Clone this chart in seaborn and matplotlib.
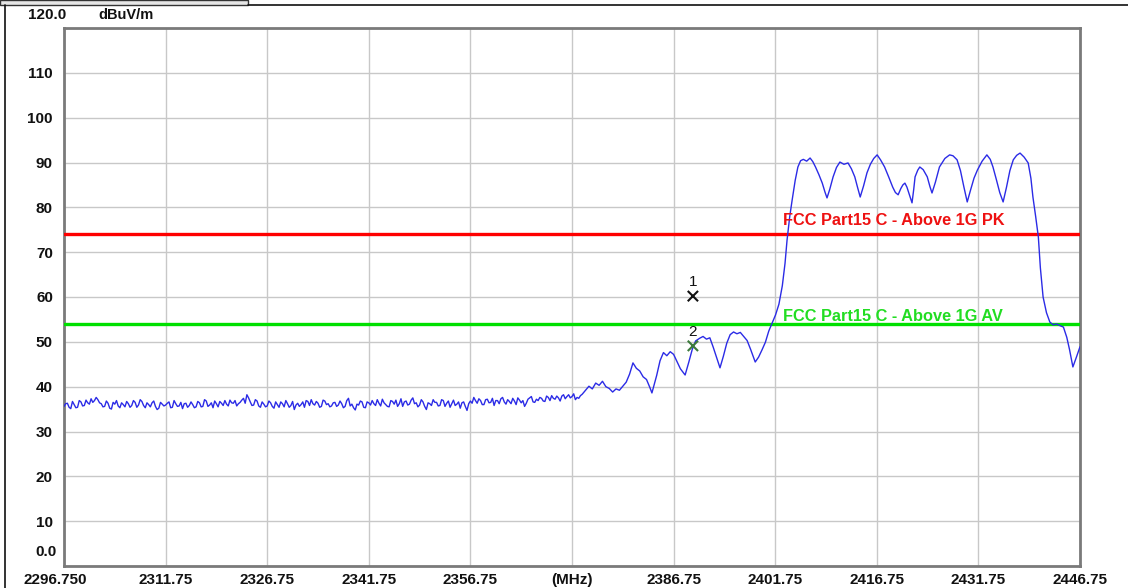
import numpy as np
import pandas as pd
import matplotlib
matplotlib.use("Agg")
import matplotlib.pyplot as plt
import matplotlib.transforms as mtransforms
from matplotlib.patches import Rectangle
from matplotlib.lines import Line2D
import seaborn as sns

# ---------------- data ----------------
noise_start = 2296.75
noise_step = 0.5
noise_level = [
    35.6, 36.3, 35.1, 36.0, 35.4, 36.6, 35.8, 36.4, 37.3, 36.9,
    37.1, 36.2, 35.6, 36.3, 35.0, 36.1, 35.7, 36.4, 35.5, 36.2,
    35.8, 36.5, 35.9, 36.7, 35.3, 36.0, 36.4, 35.6, 35.2, 36.1,
    35.9, 36.6, 35.4, 36.2, 35.7, 35.1, 36.3, 35.8, 36.0, 35.5,
    36.4, 35.6, 36.8, 35.9, 35.3, 36.2, 36.7, 35.8, 36.1, 37.0,
    36.3, 35.7, 36.5, 37.4, 38.2, 36.6, 35.9, 36.8, 35.4, 36.1,
    35.7, 36.4, 35.2, 36.0, 36.6, 35.5, 36.2, 35.8, 34.9, 36.3,
    36.0, 35.4, 36.7, 37.1, 35.9, 36.3, 35.6, 36.8, 36.2, 35.7,
    36.5, 35.9, 36.2, 35.6, 37.4, 36.1, 34.8, 35.9, 36.6, 35.3,
    36.4, 36.9, 35.8, 36.3, 37.2, 36.0, 35.5, 36.7, 37.0, 36.2,
    35.6, 36.8, 36.1, 37.5, 36.4, 35.9, 36.6, 34.9, 36.2, 37.1,
    36.5, 35.8, 36.9, 36.3, 35.4, 37.0, 36.1, 35.2, 36.6, 34.7,
    36.8, 37.6, 36.3, 36.9, 36.0, 37.2, 36.5, 35.8, 36.9, 37.3,
    36.6, 37.1, 36.2, 36.8, 37.5, 36.4, 35.6, 37.2, 37.8, 36.5,
    36.9, 37.4, 36.7, 37.6, 38.0, 37.2, 37.5, 37.9, 37.3, 38.2,
    37.8, 37.1, 37.4,
]
# readings between the points above (offset by a quarter MHz)
noise_level_mid = [
    36.2, 35.4, 36.7, 35.3, 36.9, 35.7, 37.0, 36.1, 36.5, 37.6,
    36.4, 35.5, 36.8, 35.2, 36.5, 36.9, 35.3, 36.0, 36.7, 35.4,
    36.9, 35.4, 37.1, 35.8, 36.4, 35.5, 36.8, 34.9, 36.5, 35.7,
    36.3, 35.3, 36.9, 35.6, 36.5, 36.2, 35.4, 36.6, 35.3, 36.7,
    35.5, 37.1, 35.6, 36.4, 36.8, 35.5, 36.3, 36.9, 35.7, 36.4,
    36.9, 36.2, 37.0, 36.3, 37.5, 35.8, 37.1, 35.7, 36.6, 35.5,
    36.8, 35.6, 36.6, 35.4, 36.2, 36.9, 35.4, 36.7, 35.9, 35.6,
    36.6, 36.9, 35.8, 36.2, 36.7, 35.4, 37.0, 36.0, 35.5, 36.4,
    35.6, 36.8, 35.3, 36.9, 35.7, 35.3, 36.1, 36.8, 35.4, 36.6,
    35.9, 36.2, 37.1, 35.7, 36.4, 35.6, 36.9, 36.1, 35.6, 37.3,
    36.6, 35.9, 37.0, 36.2, 35.5, 37.1, 35.6, 36.4, 35.8, 36.5,
    35.7, 37.1, 35.6, 36.8, 36.2, 35.8, 36.6, 36.4, 35.6, 36.2,
    36.3, 36.9, 37.3, 36.0, 37.1, 36.4, 37.4, 36.9, 36.2, 37.6,
    36.1, 36.7, 37.4, 36.0, 37.0, 36.9, 36.3, 37.5, 36.6, 37.2,
    37.6, 36.8, 37.9, 36.9, 37.4, 37.9, 36.8, 38.2, 37.8, 37.5,
    38.4, 37.6, 38.0,
]
noise_freq = [noise_start + noise_step * i for i in range(len(noise_level))]
noise_freq_mid = [noise_start + noise_step / 2 + noise_step * i for i in range(len(noise_level_mid))]

band_freq = [
    2373.25, 2373.75, 2374.25, 2374.75, 2375.25, 2375.75, 2376.25, 2376.75,
    2377.25, 2377.75, 2378.25, 2378.75, 2379.25, 2379.75, 2380.25, 2380.75,
    2381.25, 2381.75, 2382.25, 2382.75, 2383.25, 2383.55, 2384.25, 2384.75,
    2385.25, 2385.75, 2386.25, 2386.75, 2387.25, 2387.75, 2388.45, 2389.00,
    2389.50, 2390.00, 2390.60, 2391.10, 2391.60, 2392.10, 2392.60, 2393.10,
    2393.60, 2394.10, 2394.60, 2395.10, 2395.60, 2396.10, 2396.60, 2397.10,
    2397.60, 2398.10, 2398.80, 2399.30, 2399.80, 2400.30, 2400.80, 2401.30,
    2401.80, 2402.30, 2402.80, 2403.20, 2403.50, 2403.90, 2404.25, 2404.70,
    2405.10, 2405.50, 2405.90, 2406.40, 2406.90, 2407.30, 2407.70, 2408.20,
    2408.70, 2409.10, 2409.40, 2409.80, 2410.30, 2410.80, 2411.30, 2411.90,
    2412.50, 2413.00, 2413.50, 2413.90, 2414.30, 2414.80, 2415.30, 2415.80,
    2416.30, 2416.80, 2417.30, 2417.90, 2418.50, 2419.10, 2419.50, 2419.90,
    2420.30, 2420.60, 2420.90, 2421.20, 2421.60, 2421.95, 2422.20, 2422.40,
    2422.80, 2423.10, 2423.60, 2424.20, 2424.60, 2424.90, 2425.40, 2426.00,
    2426.80, 2427.50, 2428.00, 2428.60, 2429.10, 2429.60, 2430.10, 2430.60,
    2431.10, 2431.60, 2432.30, 2433.00, 2433.50, 2433.90, 2434.40, 2434.90,
    2435.40, 2435.90, 2436.40, 2436.90, 2437.40, 2437.90, 2438.50, 2439.10,
    2439.50, 2439.80, 2440.20, 2440.60, 2440.90, 2441.30, 2441.80, 2442.30,
    2442.80, 2443.30, 2443.80, 2444.30, 2444.80, 2445.20, 2445.70, 2446.20,
    2446.75,
]
band_level = [
    38.3, 39.2, 40.1, 39.5, 40.8, 40.3, 41.2, 40.0,
    39.6, 38.8, 39.5, 39.2, 40.1, 41.0, 42.8, 45.3,
    44.1, 43.5, 42.2, 41.6, 39.8, 38.6, 42.5, 45.8,
    47.6, 46.9, 47.8, 47.2, 45.6, 44.0, 42.6, 45.5,
    48.3, 50.2, 50.8, 51.2, 50.6, 50.9, 48.8, 46.5,
    44.2, 46.8, 49.7, 51.6, 52.2, 51.8, 52.1, 51.2,
    50.3, 48.4, 45.5, 46.6, 48.2, 49.9, 52.4, 54.2,
    56.0, 58.4, 62.5, 67.5, 72.7, 78.0, 81.6, 86.0,
    89.0, 90.4, 90.7, 90.3, 91.0, 90.2, 89.0, 87.3,
    85.4, 83.4, 82.1, 84.0, 86.8, 88.9, 90.1, 89.6,
    89.9, 88.6, 86.8, 84.5, 82.3, 84.8, 87.7, 89.6,
    90.9, 91.7, 90.6, 89.0, 86.8, 84.5, 83.3, 82.8,
    84.2, 85.0, 85.4, 84.5, 82.6, 81.0, 84.0, 86.8,
    88.3, 89.0, 88.4, 86.8, 84.6, 83.2, 85.6, 89.0,
    90.9, 91.7, 91.5, 90.6, 88.2, 84.6, 81.2, 83.9,
    86.5, 88.3, 90.3, 91.7, 90.7, 89.0, 86.2, 83.3,
    81.2, 84.5, 88.2, 90.6, 91.6, 92.1, 91.2, 89.9,
    86.5, 82.3, 78.0, 73.4, 66.5, 60.0, 56.5, 54.4,
    53.8, 54.0, 53.6, 53.3, 51.0, 48.3, 44.4, 46.5,
    48.9,
]

limit_names = ["FCC Part15 C - Above 1G PK", "FCC Part15 C - Above 1G AV"]
limit_levels = [74.0, 54.0]

marker_ids = ["1", "2"]
marker_freq = [2389.6, 2389.6]
marker_level = [60.2, 49.1]

x_ticks = [2296.75, 2311.75, 2326.75, 2341.75, 2356.75, 2371.75,
           2386.75, 2401.75, 2416.75, 2431.75, 2446.75]
x_tick_labels = ["2296.750", "2311.75", "2326.75", "2341.75", "2356.75", "(MHz)",
                 "2386.75", "2401.75", "2416.75", "2431.75", "2446.75"]
y_ticks = [0, 10, 20, 30, 40, 50, 60, 70, 80, 90, 100, 110, 120]
y_tick_labels = ["", "10", "20", "30", "40", "50", "60", "70", "80", "90", "100", "110", ""]
y_top_label = "120.0"
y_bottom_label = "0.0"
y_unit = "dBuV/m"

# ---------------- plotting ----------------
sns.set_style("white")
plt.rcParams["font.family"] = ["Liberation Sans", "DejaVu Sans"]

W, H = 1128, 588
fig = plt.figure(figsize=(W / 100, H / 100), dpi=100)
ax = fig.add_axes([64 / W, 1 - 566 / H, (1080 - 64) / W, (566 - 28) / H])

trace = pd.DataFrame({
    "freq": noise_freq + noise_freq_mid + band_freq,
    "level": noise_level + noise_level_mid + band_level,
}).sort_values("freq")
sns.lineplot(data=trace, x="freq", y="level", ax=ax, color="#2b2be6",
             linewidth=1.0, sort=True, estimator=None, zorder=4)

limit_colors = ["#ff0000", "#00e000"]
label_colors = ["#ee1111", "#22dd22"]
label_offsets = [4.5, 0.0]
for name, lvl, c, lc, off in zip(limit_names, limit_levels, limit_colors, label_colors, label_offsets):
    ax.axhline(lvl, color=c, linewidth=2.4, zorder=3)
    ax.annotate(name, xy=(2402.85, lvl), xytext=(0, off), textcoords="offset points",
                ha="left", va="bottom", color=lc, fontsize=11.8, fontweight="bold", zorder=5)

mk = pd.DataFrame({"id": marker_ids, "freq": marker_freq, "level": marker_level})
sns.scatterplot(data=mk, x="freq", y="level", hue="id", palette=["#111111", "#3c7a3c"],
                marker="x", s=55, linewidth=1.5, legend=False, ax=ax, zorder=6)
for i, row in mk.iterrows():
    ax.annotate(row["id"], xy=(row["freq"], row["level"]), xytext=(0, 5),
                textcoords="offset points", ha="center", va="bottom",
                color="#111111", fontsize=11, zorder=6)

ax.set_xlim(2296.75, 2446.75)
ax.set_ylim(0, 120)
ax.set_xticks(x_ticks)
ax.set_xticklabels(x_tick_labels, fontsize=11, fontweight="bold", color="#111111")
ax.set_yticks(y_ticks)
ax.set_yticklabels(y_tick_labels, fontsize=11, fontweight="bold", color="#111111")
ax.tick_params(axis="both", length=0)
ax.tick_params(axis="y", pad=8)
ax.tick_params(axis="x", pad=5)
ax.grid(True, color="#c8c8c8", linewidth=1.0, zorder=0)
ax.set_axisbelow(True)
ax.set_xlabel("")
ax.set_ylabel("")
for sp in ax.spines.values():
    sp.set_color("#7a7a7a")
    sp.set_linewidth(2.0)

# shift first x label a bit to the left, as in the reference
first = ax.get_xticklabels()[0]
first.set_transform(first.get_transform() + mtransforms.ScaledTranslation(-9 / 100, 0, fig.dpi_scale_trans))

# edge y labels and unit (placed above the grid line, as in the reference)
fig.text(66 / W, 1 - 15 / H, y_top_label, ha="right", va="center", fontsize=11,
         fontweight="bold", color="#111111")
fig.text(98 / W, 1 - 15 / H, y_unit, ha="left", va="center", fontsize=10.5,
         fontweight="bold", color="#111111")
fig.text(57 / W, 1 - 552 / H, y_bottom_label, ha="right", va="center", fontsize=11,
         fontweight="bold", color="#111111")

# window frame decorations
fig.add_artist(Rectangle((0, 1 - 5 / H), 248 / W, 5 / H, transform=fig.transFigure,
                         facecolor="#e6e6e6", edgecolor="#333333", linewidth=1))
fig.add_artist(Line2D([248 / W, 1], [1 - 5 / H, 1 - 5 / H], transform=fig.transFigure,
                      color="#111111", linewidth=1.2))
fig.add_artist(Line2D([5 / W, 5 / W], [0, 1 - 5 / H], transform=fig.transFigure,
                      color="#111111", linewidth=1.2))

fig.savefig("out.png", dpi=100)
